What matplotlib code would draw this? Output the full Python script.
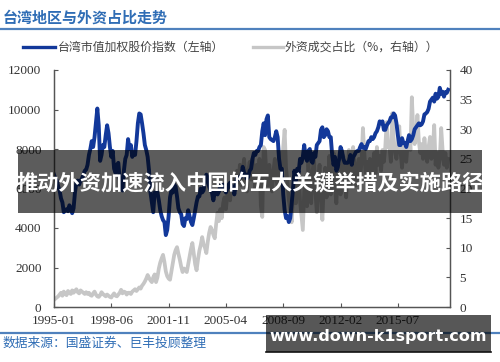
import numpy as np
import matplotlib
matplotlib.use("Agg")
from matplotlib import pyplot as plt
from matplotlib.patches import Rectangle
from matplotlib.lines import Line2D

plt.rcParams['font.family'] = ['Noto Sans CJK SC', 'DejaVu Sans']

# --------------- datos (mensuales, 1995-01 a 2018-07)

# indice ponderado de Taiwan (eje izquierdo)
taiex = [
    6700, 6500, 6400, 6100, 5900, 5500, 5300, 4800, 4900, 4950, 4850, 5150,  # 1995
    5000, 4750, 5000, 5800, 6300, 6400, 6200, 6400, 6500, 6700, 6900, 6950,  # 1996
    7200, 7700, 8000, 8400, 8100, 8600, 9300, 10050, 9200, 7400, 7700, 8200,  # 1997
    8100, 8700, 9200, 8800, 8100, 7600, 7900, 7000, 6800, 7200, 7300, 6500,  # 1998
    6000, 5900, 6900, 7500, 7700, 8500, 8000, 8200, 7600, 7800, 7700, 8400,  # 1999
    9300, 9800, 9750, 9300, 8800, 8200, 7950, 7600, 6900, 5800, 5300, 4800,  # 2000
    5800, 5700, 5800, 5400, 4900, 4600, 4400, 4300, 3640, 3900, 4600, 5550,  # 2001
    5900, 5800, 6200, 6100, 5600, 5000, 4800, 4700, 4200, 4100, 4500, 4450,  # 2002
    4900, 4600, 4300, 4150, 4500, 4900, 5300, 5600, 5600, 6000, 5800, 5900,  # 2003
    6400, 6700, 6500, 6100, 5900, 5800, 5400, 5800, 5850, 5700, 5850, 6140,  # 2004
    6000, 6200, 6000, 5800, 6000, 6200, 6300, 6000, 6100, 5700, 6200, 6550,  # 2005
    6500, 6600, 6600, 7100, 6800, 6700, 6500, 6600, 6900, 7000, 7500, 7800,  # 2006
    7700, 7900, 7900, 8100, 8200, 8900, 9300, 8700, 9500, 9700, 8600, 8500,  # 2007
    8450, 8400, 8600, 8900, 8600, 7500, 7000, 7000, 5700, 4900, 4500, 4600,  # 2008
    4300, 4500, 5200, 6000, 6900, 6400, 7000, 6800, 7500, 7300, 7600, 8200,  # 2009
    7600, 7400, 7900, 8000, 7400, 7300, 7800, 7600, 8200, 8300, 8400, 8970,  # 2010
    9100, 8600, 8700, 9000, 8900, 8600, 8600, 7700, 7200, 7600, 6900, 7070,  # 2011
    7500, 8100, 7900, 7500, 7300, 7300, 7300, 7400, 7700, 7200, 7600, 7700,  # 2012
    7850, 7900, 7900, 8100, 8250, 8060, 8100, 8000, 8200, 8400, 8400, 8600,  # 2013
    8500, 8600, 8800, 8900, 9100, 9400, 9300, 9400, 8970, 8970, 9200, 9300,  # 2014
    9400, 9600, 9600, 9800, 9700, 9300, 8700, 8200, 8200, 8550, 8300, 8300,  # 2015
    8100, 8400, 8700, 8400, 8500, 8700, 9000, 9100, 9200, 9300, 9200, 9250,  # 2016
    9400, 9750, 9800, 9870, 10040, 10400, 10500, 10600, 10400, 10800, 10550, 10640,  # 2017
    11100, 10800, 10900, 10650, 10880, 10840, 11000,  # 2018
]

# participacion extranjera en el volumen (% eje derecho)
foreign_pct = [
    1.2, 1.4, 1.6, 1.8, 2.1, 2.4, 1.9, 2.6, 2.2, 2.0, 2.7, 2.4,  # 1995
    2.2, 2.8, 2.4, 2.7, 3.0, 2.5, 2.3, 2.8, 2.6, 2.4, 2.2, 2.5,  # 1996
    2.2, 2.4, 2.0, 1.9, 2.3, 2.6, 2.1, 1.8, 1.7, 2.0, 2.5, 2.2,  # 1997
    2.0, 1.8, 2.1, 1.9, 1.7, 1.6, 2.0, 2.3, 1.9, 1.8, 2.1, 2.4,  # 1998
    2.9, 2.3, 2.6, 2.5, 2.1, 2.4, 2.4, 2.2, 2.6, 2.8, 3.0, 2.7,  # 1999
    3.0, 3.3, 3.1, 3.6, 3.9, 4.3, 4.8, 5.4, 4.9, 4.5, 4.2, 5.0,  # 2000
    5.5, 4.2, 5.0, 6.5, 7.5, 8.2, 8.8, 7.6, 6.0, 5.2, 4.8, 4.6,  # 2001
    6.0, 7.5, 8.8, 9.6, 10.1, 9.0, 8.0, 6.8, 5.9, 6.5, 6.2, 5.9,  # 2002
    7.2, 8.5, 9.8, 10.8, 9.0, 7.2, 6.2, 8.0, 9.5, 10.5, 11.8, 10.6,  # 2003
    10.0, 9.1, 11.0, 12.5, 13.5, 13.0, 12.2, 11.6, 14.0, 15.9, 14.5, 16.5,  # 2004
    15.0, 17.5, 18.5, 16.5, 19.0, 20.5, 18.0, 21.0, 19.5, 22.5, 20.5, 23.0,  # 2005
    21.0, 24.0, 20.5, 23.0, 25.0, 21.5, 19.5, 23.0, 24.5, 21.5, 25.0, 22.5,  # 2006
    20.0, 24.0, 21.0, 25.0, 17.0, 15.2, 27.0, 26.5, 22.0, 20.5, 24.0, 21.5,  # 2007
    19.5, 23.0, 25.0, 21.5, 20.5, 24.0, 26.0, 22.5, 27.0, 29.9, 23.5, 21.0,  # 2008
    18.0, 16.5, 14.3, 19.0, 22.0, 17.5, 20.0, 23.0, 18.0, 15.5, 13.0, 19.5,  # 2009
    22.0, 17.0, 24.5, 20.0, 17.5, 23.0, 25.0, 19.5, 16.0, 21.5, 24.0, 18.0,  # 2010
    14.7, 20.5, 23.5, 18.5, 21.0, 25.5, 19.0, 22.0, 26.0, 20.5, 17.5, 22.5,  # 2011
    24.0, 19.0, 21.5, 25.5, 22.0, 18.5, 23.0, 26.5, 20.5, 22.0, 27.0, 24.0,  # 2012
    20.5, 23.5, 25.0, 21.5, 24.5, 30.2, 26.0, 22.0, 24.5, 21.0, 25.0, 22.5,  # 2013
    23.5, 26.0, 22.5, 27.0, 24.0, 25.5, 23.0, 26.5, 24.5, 27.0, 31.2, 27.0,  # 2014
    27.0, 24.5, 32.7, 28.5, 26.0, 25.0, 27.5, 30.5, 26.0, 23.5, 27.0, 25.0,  # 2015
    24.5, 27.5, 29.0, 26.5, 35.4, 30.0, 27.5, 29.0, 32.4, 28.0, 26.0, 27.5,  # 2016
    25.0, 28.5, 26.0, 24.5, 27.0, 28.7, 25.0, 26.5, 30.7, 24.0, 26.0, 23.5,  # 2017
    25.0, 30.2, 26.5, 24.0, 26.0, 23.5, 25.0,  # 2018
]

xtick_labels = ["1995-01", "1998-06", "2001-11", "2005-04", "2008-09", "2012-02", "2015-07"]
xtick_pos = [0, 41, 82, 123, 164, 205, 246]  # cada 41 meses

titulo = "台湾地区与外资占比走势"
leyenda_izq = "台湾市值加权股价指数（左轴）"
leyenda_der = "外资成交占比（%，右轴））"
fuente = "数据来源：国盛证券、巨丰投顾整理"
banner = "推动外资加速流入中国的五大关键举措及实施路径"
marca = "www.down-k1sport.com"

# --------------- figura

W, H = 500, 362
fig = plt.figure(figsize=(5, 3.62), dpi=100)

def fx(px):
    return px / W

def fy(py):
    return 1 - py / H

ax = fig.add_axes([fx(54), fy(307), fx(450) - fx(54), fy(70) - fy(307)])
ax2 = ax.twinx()

meses = np.arange(len(taiex))
meses2 = np.arange(len(foreign_pct))

azul = "#12389a"
gris = "#c6c6c6"

ax2.plot(meses2, foreign_pct, color=gris, lw=2.7, solid_joinstyle="round")
ax.plot(meses, taiex, color=azul, lw=2.8, solid_joinstyle="round")
# la linea azul va encima de la gris
ax.set_zorder(ax2.get_zorder() + 1)
ax.patch.set_visible(False)

ax.set_xlim(0, 283.3)
ax.set_ylim(0, 12000)
ax2.set_ylim(0, 40)
ax.set_yticks(range(0, 12001, 2000))
ax2.set_yticks(range(0, 41, 5))
ax.set_xticks(xtick_pos)
ax.set_xticklabels(xtick_labels)

serif = "Liberation Serif"
for a in (ax, ax2):
    for s in a.spines.values():
        s.set_color("#555555")
        s.set_linewidth(0.9)
    a.spines["top"].set_visible(False)
    a.tick_params(direction="in", length=3, color="#555555", labelsize=9.5,
                  labelcolor="#333333")
    for lab in a.get_xticklabels() + a.get_yticklabels():
        lab.set_fontfamily(serif)
ax.tick_params(axis="y", pad=9)
ax.tick_params(axis="x", pad=6)
ax2.tick_params(axis="y", pad=7)

# titulo y lineas azules
fig.text(fx(3), fy(18), titulo, color="#2f6db5", fontsize=10.8, fontweight="bold",
         va="center", ha="left")
fig.add_artist(Line2D([0, 1], [fy(29), fy(29)], color="#4f81bd", lw=1.6))
fig.add_artist(Line2D([0, 1], [fy(333), fy(333)], color="#4f81bd", lw=1.6))
fig.text(fx(3), fy(343), fuente, color="#2f6db5", fontsize=9.2, va="center", ha="left")

# leyenda manual
fig.add_artist(Line2D([fx(23), fx(55)], [fy(47), fy(47)], color=azul, lw=2.4))
fig.text(fx(58), fy(47), leyenda_izq, color="#444444", fontsize=8.6, va="center", ha="left")
fig.add_artist(Line2D([fx(253), fx(283)], [fy(47), fy(47)], color=gris, lw=2.4))
fig.text(fx(285), fy(47), leyenda_der, color="#444444", fontsize=8.6, va="center", ha="left")

# banda oscura superpuesta
fig.add_artist(Rectangle((fx(18), fy(213)), fx(482) - fx(18), fy(150) - fy(213),
                         facecolor="black", alpha=0.64, edgecolor="none", zorder=10))
fig.text(0.5, fy(184), banner, color="white", fontsize=15.3, fontweight="bold",
         ha="center", va="center", zorder=11)

# marca de agua abajo
fig.add_artist(Rectangle((fx(266), fy(352)), fx(491) - fx(266), fy(315) - fy(352),
                         facecolor="black", alpha=0.66, edgecolor="none", zorder=10))
fig.add_artist(Line2D([fx(266), fx(491)], [fy(352), fy(352)], color="#111111", lw=1.2, zorder=11))
fig.text(fx(378), fy(336), marca, color="white", fontsize=11.5, fontweight="bold",
         family="DejaVu Sans", ha="center", va="center", zorder=11)

fig.savefig("out.png", dpi=100)
